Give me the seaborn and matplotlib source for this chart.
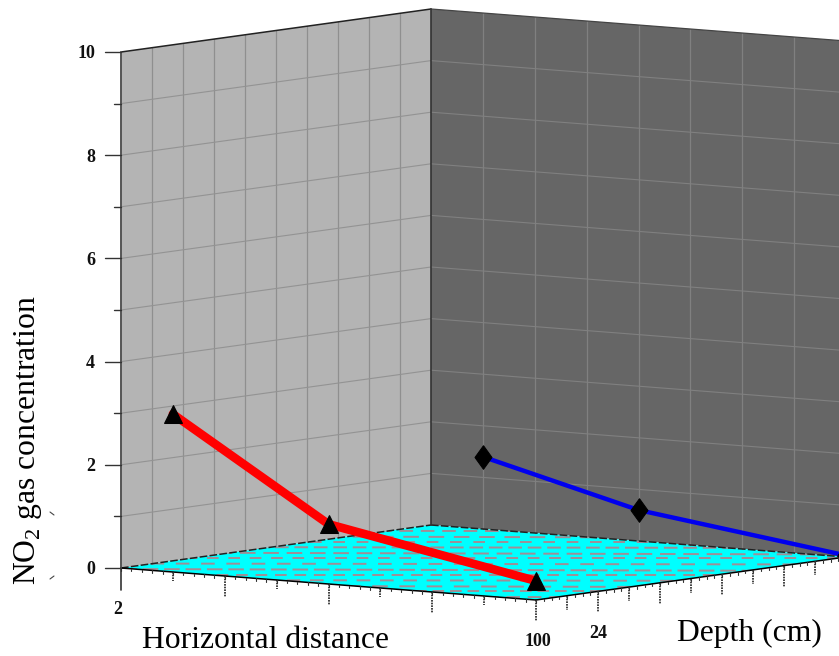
import numpy as np
import pandas as pd
import matplotlib
matplotlib.use("Agg")
import matplotlib.pyplot as plt
from matplotlib.patches import Polygon
import seaborn as sns

# values
distance = [30, 60, 100]
front_depth = [0, 0, 0]
back_depth = [120, 120, 120]
front_conc = [3.06, 1.16, 0.37]
back_conc = [1.40, 0.60, 0.03]

distance_grid = [20, 30, 40, 50, 60, 70, 80, 90, 100]
depth_grid = [0, 12, 24, 36, 48, 60, 72, 84, 96, 108, 120]
conc_grid = [0, 1, 2, 3, 4, 5, 6, 7, 8, 9, 10]
conc_labels = [0, 2, 4, 6, 8, 10]

DMIN, DMAX, DEPTH, ZMAX = 20, 100, 120, 10


# the chart is a fixed oblique view, everything goes through this, result in pixels
def project(h, d, z):
    h, d, z = np.asarray(h, float), np.asarray(d, float), np.asarray(z, float)
    t = (h - DMIN) / (DMAX - DMIN)
    s = d / DEPTH
    return 121 + t * 415 + s * 310, 568 + t * 32 - s * 43 - z * 51.6


sns.set_theme(style="white")
plt.rcParams["font.family"] = ["Liberation Serif", "DejaVu Serif"]
plt.rcParams["mathtext.fontset"] = "custom"
plt.rcParams["mathtext.rm"] = "Liberation Serif"

fig = plt.figure(figsize=(8.39, 6.56), dpi=100)
ax = fig.add_axes([0, 0, 1, 1])
ax.set_xlim(0, 839)
ax.set_ylim(656, 0)
ax.axis("off")


def seg(ax, p0, p1, **kw):
    x, y = project(*zip(p0, p1))
    ax.plot(x, y, **kw)


def wall(p):
    x, y = project(*zip(*p))
    return np.column_stack([x, y])


# walls and floor
ax.add_patch(Polygon(wall([(DMIN, 0, 0), (DMIN, DEPTH, 0), (DMIN, DEPTH, ZMAX), (DMIN, 0, ZMAX)]), fc="#b4b4b4", ec="none", zorder=1))
ax.add_patch(Polygon(wall([(DMIN, DEPTH, 0), (DMAX, DEPTH, 0), (DMAX, DEPTH, ZMAX), (DMIN, DEPTH, ZMAX)]), fc="#666666", ec="none", zorder=1))
floor = Polygon(wall([(DMIN, 0, 0), (DMAX, 0, 0), (DMAX, DEPTH, 0), (DMIN, DEPTH, 0)]), fc="#00ffff", ec="none", zorder=2)
ax.add_patch(floor)

# wall grid
for d in depth_grid[1:-1]:
    seg(ax, (DMIN, d, 0), (DMIN, d, ZMAX), color="#8f8f8f", lw=0.9, zorder=2)
for z in conc_grid[1:-1]:
    seg(ax, (DMIN, 0, z), (DMIN, DEPTH, z), color="#939393", lw=0.8, zorder=2)
    seg(ax, (DMIN, DEPTH, z), (DMAX, DEPTH, z), color="#808080", lw=0.8, zorder=2)
for h in distance_grid[1:-1]:
    seg(ax, (h, DEPTH, 0), (h, DEPTH, ZMAX), color="#808080", lw=0.9, zorder=2)

# floor texture, rows of grey dashes
for i, py in enumerate(np.arange(525, 604, 5.5)):
    ln, = ax.plot([100, 860], [py, py + (i % 3)], color="#a08e96", lw=1.4, zorder=3,
                  dashes=(6 + i % 3, 3 + i % 4), dash_capstyle="butt")
    ln.set_clip_path(floor)

# edges
seg(ax, (DMIN, 0, 0), (DMIN, DEPTH, 0), color="#222222", lw=1.1, ls=(0, (5, 1.5)), zorder=4)
seg(ax, (DMIN, DEPTH, 0), (DMAX, DEPTH, 0), color="#222222", lw=1.1, ls=(0, (5, 1.5)), zorder=4)
seg(ax, (DMIN, 0, 0), (DMAX, 0, 0), color="black", lw=1.1, zorder=4)
seg(ax, (DMAX, 0, 0), (DMAX, DEPTH, 0), color="black", lw=1.1, zorder=4)
seg(ax, (DMIN, 0, ZMAX), (DMIN, DEPTH, ZMAX), color="#222222", lw=1.1, zorder=4)
seg(ax, (DMIN, DEPTH, ZMAX), (DMAX, DEPTH, ZMAX), color="#444444", lw=0.9, zorder=4)
seg(ax, (DMIN, DEPTH, 0), (DMIN, DEPTH, ZMAX), color="#333333", lw=1.2, zorder=4)
seg(ax, (DMIN, 0, 0), (DMIN, 0, ZMAX), color="#555555", lw=1.4, zorder=4)

# vertical axis ticks
for z in conc_grid:
    x0, y0 = project(DMIN, 0, z)
    long_tick = z in conc_labels
    ax.plot([x0 - (16 if long_tick else 7), x0], [y0, y0], color="#333333", lw=1.0, zorder=4)
for z in conc_labels:
    x0, y0 = project(DMIN, 0, z)
    ax.text(x0 - 26, y0 + 2, str(z), ha="right", va="center", fontsize=13, fontweight="bold", color="#111111")
x0, y0 = project(DMIN, 0, 0)
ax.plot([x0, x0], [y0, y0 + 22], color="#333333", lw=1.2, zorder=4)

# floor ticks
for i, h in enumerate(distance_grid[1:]):
    x0, y0 = project(h, 0, 0)
    ax.plot([x0, x0], [y0, y0 + (9 if i % 2 == 0 else 21)], color="#222222", lw=1.2, ls=(0, (1, 0.6)), zorder=4)
for i, d in enumerate(depth_grid[1:-1]):
    x0, y0 = project(DMAX, d, 0)
    ax.plot([x0, x0], [y0, y0 + (14 if i % 2 == 0 else 21)], color="#222222", lw=1.2, ls=(0, (1, 0.6)), zorder=4)
for h in np.arange(DMIN, DMAX, 2):
    x0, y0 = project(h, 0, 0)
    ax.plot([x0, x0], [y0, y0 + 2.5], color="#333333", lw=0.8, zorder=4)
for d in np.arange(0, DEPTH, 3):
    x0, y0 = project(DMAX, d, 0)
    ax.plot([x0, x0], [y0, y0 + 2.5], color="#333333", lw=0.8, zorder=4)

# data
front = pd.DataFrame(dict(zip(["px", "py"], project(distance, front_depth, front_conc))))
back = pd.DataFrame(dict(zip(["px", "py"], project(distance, back_depth, back_conc))))
tall_diamond = [(0, 1), (0.72, 0), (0, -1), (-0.72, 0), (0, 1)]
sns.lineplot(data=back, x="px", y="py", ax=ax, color="#0000ee", lw=3.2, sort=False, estimator=None,
             marker=tall_diamond, markersize=17, markerfacecolor="black", markeredgecolor="black", zorder=5)
sns.lineplot(data=front, x="px", y="py", ax=ax, color="#ff0000", lw=6.2, sort=False, estimator=None,
             marker="^", markersize=13, markerfacecolor="black", markeredgecolor="black", zorder=6)
ax.axis("off")
ax.set_xlim(0, 839)
ax.set_ylim(656, 0)

# tick labels under the floor
ax.text(118, 610, "2", ha="center", va="center", fontsize=13, fontweight="bold", color="#111111")
ax.text(538, 642, "100", ha="center", va="center", fontsize=13, fontweight="bold", color="#111111")
ax.text(598, 634, "24", ha="center", va="center", fontsize=13, fontweight="bold", color="#111111")

# the two little scan marks next to the y title
ax.plot([50, 54], [512, 515], color="#444444", lw=0.8)
ax.plot([50, 54], [579, 576], color="#444444", lw=0.8)

# axis titles
ax.text(265, 641, "Horizontal distance", ha="center", va="center", fontsize=22.8, color="black")
ax.text(749.5, 633, "Depth (cm)", ha="center", va="center", fontsize=22.8, color="black")
ax.text(28, 440, "NO$_2$ gas concentration", ha="center", va="center", rotation=90, fontsize=22.8, color="black")

fig.savefig("out.png", dpi=100)
